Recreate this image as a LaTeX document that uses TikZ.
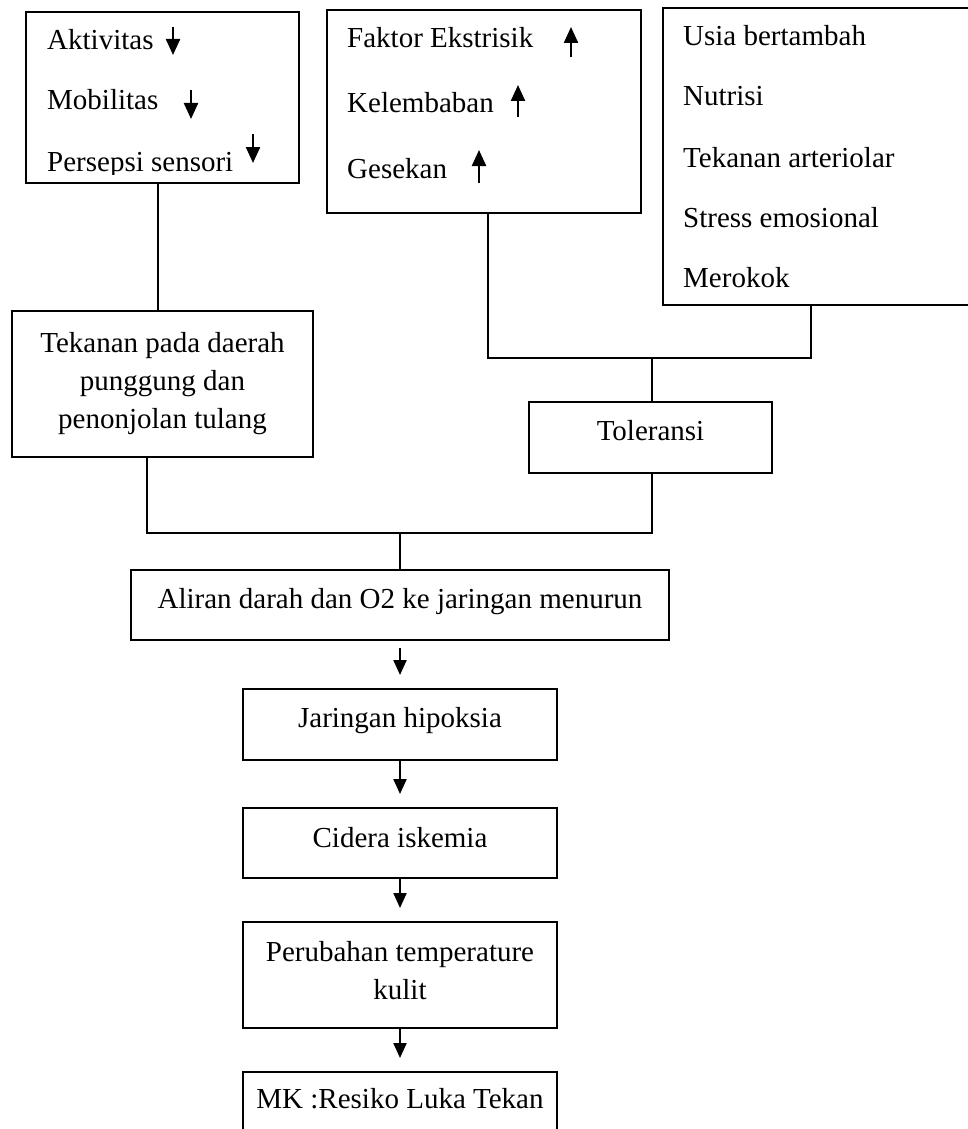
\documentclass[tikz,border=0pt]{standalone}
\usepackage{fontspec}
\setmainfont{Liberation Serif}
\usetikzlibrary{arrows.meta}

\begin{document}
\begin{tikzpicture}[x=1pt,y=-1pt,
    box/.style={draw,line width=2pt,inner sep=0pt},
    txt/.style={font=\fontsize{29pt}{38pt}\selectfont,inner sep=0pt},
    link/.style={line width=1.5pt},
    next/.style={-{Triangle[length=15pt,width=13pt]},line width=2.2pt,shorten >=13pt},
    pointer/.style={-{Triangle[length=16pt,width=14pt]},line width=2.3pt}]
    \useasboundingbox (0,0) rectangle (967,1129);

    % faktor pencetus
    \node[box,minimum width=273pt,minimum height=171pt] (immob) at (162.5,97.5) {};
    \node[box,minimum width=314pt,minimum height=203pt] (ext) at (484,111.5) {};
    \node[box,minimum width=312pt,minimum height=297pt] (intr) at (819,156.5) {};

    \begin{scope}
        \clip (immob.north west) rectangle ([yshift=10pt]immob.south east);
        \node[txt,anchor=base west] (akt) at (47,50) {Aktivitas};
        \node[txt,anchor=base west] (mob) at (47,110) {Mobilitas};
        \node[txt,anchor=base west] (pers) at (47,171) {Persepsi sensori};
    \end{scope}
    \draw[pointer] (173,27) -- (173,55);
    \draw[pointer] (191,90) -- (191,119);
    \draw[pointer] (253,134) -- (253,163);

    \node[txt,anchor=base west] (fak) at (347,48) {Faktor Ekstrisik};
    \node[txt,anchor=base west] (kel) at (347,113) {Kelembaban};
    \node[txt,anchor=base west] (ges) at (347,178) {Gesekan};
    \draw[pointer] (571,57) -- (571,27);
    \draw[pointer] (518,117) -- (518,85);
    \draw[pointer] (479,183) -- (479,150);

    \node[txt,anchor=base west] (usia) at (683,46) {Usia bertambah};
    \node[txt,anchor=base west] (nutr) at (683,106) {Nutrisi};
    \node[txt,anchor=base west] (art) at (683,167) {Tekanan arteriolar};
    \node[txt,anchor=base west] (stres) at (683,227) {Stress emosional};
    \node[txt,anchor=base west] (rokok) at (683,287) {Merokok};

    % tekanan dan toleransi
    \node[box,txt,align=center,minimum width=301pt,minimum height=146pt] (press) at (162.5,384)
        {Tekanan pada daerah\\punggung dan\\penonjolan tulang};
    \node[box,minimum width=243pt,minimum height=71pt] (tol) at (650.5,437.5) {};
    \node[txt,anchor=base] (tolt) at (650.5,440) {Toleransi};

    \coordinate (upjoin) at (652,358);
    \coordinate (intrfoot) at (811,305);
    \draw[link] ([xshift=-4.5pt]immob.south) -- ([xshift=-4.5pt]press.north);
    \draw[link] ([xshift=4pt]ext.south) |- (upjoin) -| (intrfoot);
    \draw[link] (upjoin) -- (upjoin |- tol.north);

    % alur
    \node[box,minimum width=538pt,minimum height=70pt] (blood) at (400,605) {};
    \node[txt,anchor=base] (bloodt) at (400,608) {Aliran darah dan O2 ke jaringan menurun};
    \node[box,minimum width=314pt,minimum height=71pt] (hypox) at (400,724.5) {};
    \node[txt,anchor=base] (hypoxt) at (400,727) {Jaringan hipoksia};
    \node[box,minimum width=314pt,minimum height=70pt] (isch) at (400,843) {};
    \node[txt,anchor=base] (ischt) at (400,847) {Cidera iskemia};
    \node[box,minimum width=314pt,minimum height=106pt] (temp) at (400,975) {};
    \node[txt,align=center] (tempt) at (400,971) {Perubahan temperature\\kulit};
    \node[box,minimum width=314pt,minimum height=68pt] (risk) at (400,1106) {};
    \node[txt,anchor=base] (riskt) at (400,1108) {MK :Resiko Luka Tekan};

    \coordinate (lowjoin) at (400,533);
    \draw[link] ([xshift=-15.5pt]press.south) |- (lowjoin) -| (upjoin |- tol.south);
    \draw[link] (lowjoin) -- (blood.north);

    \draw[next,shorten <=7pt] (blood.south) -- (hypox.north);
    \draw[next] (hypox.south) -- (isch.north);
    \draw[next] (isch.south) -- (temp.north);
    \draw[next] (temp.south) -- (risk.north);
\end{tikzpicture}
\end{document}
